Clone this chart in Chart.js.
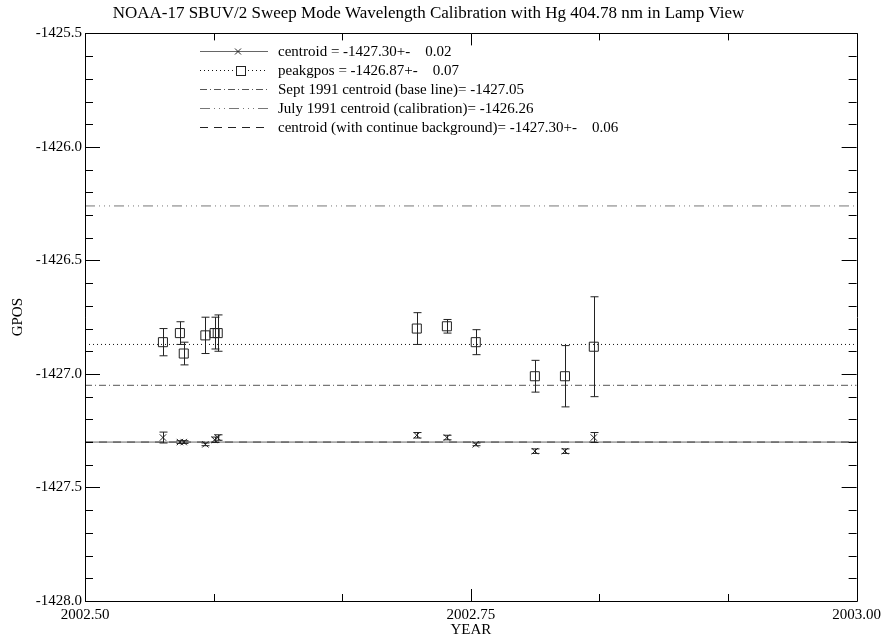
<!DOCTYPE html>
<html>
<head>
<meta charset="utf-8">
<title>NOAA-17 SBUV/2 wavelength calibration</title>
<script src="https://cdn.jsdelivr.net/npm/chart.js@4.4.0/dist/chart.umd.min.js"></script>
<style>
  html, body { margin: 0; padding: 0; background: #fff; }
</style>
</head>
<body>
<canvas id="chart" width="886" height="640"></canvas>
<script>
// observation times (fractional year)
var years = [2002.5505, 2002.5615, 2002.5640, 2002.5780, 2002.5840, 2002.5860,
             2002.7150, 2002.7345, 2002.7532, 2002.7915, 2002.8110, 2002.8297];

// centroid GPOS and its error
var centroid = [-1427.28, -1427.30, -1427.30, -1427.31, -1427.29, -1427.28,
                -1427.27, -1427.28, -1427.31, -1427.34, -1427.34, -1427.28];
var centroidErr = [0.024, 0.006, 0.006, 0.006, 0.012, 0.012,
                   0.012, 0.010, 0.006, 0.010, 0.010, 0.022];

// peak GPOS and its error
var peakgpos = [-1426.86, -1426.82, -1426.91, -1426.83, -1426.82, -1426.82,
                -1426.80, -1426.79, -1426.86, -1427.01, -1427.01, -1426.88];
var peakErr = [0.06, 0.05, 0.05, 0.08, 0.07, 0.08,
               0.07, 0.03, 0.055, 0.07, 0.135, 0.22];

// horizontal reference levels
var refLevels = [-1427.30, -1426.87, -1427.05, -1426.26, -1427.30];
var legendLabels = [
  'centroid = -1427.30+-    0.02',
  'peakgpos = -1426.87+-    0.07',
  'Sept 1991 centroid (base line)= -1427.05',
  'July 1991 centroid (calibration)= -1426.26',
  'centroid (with continue background)= -1427.30+-    0.06'
];

// axis ranges
var xMin = 2002.5, xMax = 2003.0;
var yMin = -1428.0, yMax = -1425.5;

var serif = '"Liberation Serif", "DejaVu Serif", serif';

var refStyles = [
  { color: '#666', dash: [] },
  { color: '#111', dash: [1, 3] },
  { color: '#555', dash: [7, 3, 1, 3] },
  { color: '#777', dash: [10, 4, 1, 4, 1, 4, 1, 4] },
  { color: '#222', dash: [8, 6] }
];

var refSets = refLevels.map(function (lv, i) {
  return {
    type: 'line',
    data: [{ x: xMin, y: lv }, { x: xMax, y: lv }],
    borderColor: refStyles[i].color,
    borderDash: refStyles[i].dash,
    borderWidth: 1,
    pointRadius: 0,
    fill: false
  };
});

// error bars for the two point series
var errorBars = {
  id: 'errorBars',
  afterDatasetsDraw: function (chart) {
    var xs = chart.scales.x, ys = chart.scales.y, ctx = chart.ctx;
    var series = [[centroid, centroidErr], [peakgpos, peakErr]];
    ctx.save();
    ctx.strokeStyle = '#222';
    ctx.lineWidth = 1;
    series.forEach(function (s) {
      for (var i = 0; i < years.length; i++) {
        var px = Math.round(xs.getPixelForValue(years[i])) + 0.5;
        var top = ys.getPixelForValue(s[0][i] + s[1][i]);
        var bot = ys.getPixelForValue(s[0][i] - s[1][i]);
        ctx.beginPath();
        ctx.moveTo(px, top); ctx.lineTo(px, bot);
        ctx.moveTo(px - 4, top); ctx.lineTo(px + 4, top);
        ctx.moveTo(px - 4, bot); ctx.lineTo(px + 4, bot);
        ctx.stroke();
      }
    });
    ctx.restore();
  }
};

// box frame with inward ticks on all four sides, plus the legend
var frame = {
  id: 'frame',
  afterDraw: function (chart) {
    var a = chart.chartArea, xs = chart.scales.x, ys = chart.scales.y, ctx = chart.ctx;
    ctx.save();
    ctx.strokeStyle = '#000';
    ctx.lineWidth = 1;
    ctx.beginPath();
    ctx.rect(Math.round(a.left) + 0.5, Math.round(a.top) + 0.5,
             Math.round(a.right - a.left), Math.round(a.bottom - a.top));
    ctx.stroke();

    ctx.beginPath();
    for (var k = 0; k <= 25; k++) {
      var py = Math.round(ys.getPixelForValue(yMin + k * 0.1)) + 0.5;
      var len = k % 5 === 0 ? 15 : 8;
      ctx.moveTo(a.left, py); ctx.lineTo(a.left + len, py);
      ctx.moveTo(a.right, py); ctx.lineTo(a.right - len, py);
    }
    for (var m = 0; m <= 6; m++) {
      var px = Math.round(xs.getPixelForValue(xMin + m / 12)) + 0.5;
      var tl = m % 3 === 0 ? 12 : 7;
      ctx.moveTo(px, a.bottom); ctx.lineTo(px, a.bottom - tl);
      ctx.moveTo(px, a.top); ctx.lineTo(px, a.top + tl);
    }
    ctx.stroke();

    // legend
    ctx.font = '15px ' + serif;
    ctx.textBaseline = 'middle';
    ctx.fillStyle = '#000';
    for (var i = 0; i < legendLabels.length; i++) {
      var ly = 51.5 + i * 19;
      ctx.strokeStyle = refStyles[i].color;
      ctx.setLineDash(refStyles[i].dash);
      ctx.beginPath();
      ctx.moveTo(200, ly); ctx.lineTo(268, ly);
      ctx.stroke();
      ctx.setLineDash([]);
      ctx.strokeStyle = '#222';
      if (i === 0) {
        ctx.beginPath();
        ctx.moveTo(235, ly - 3); ctx.lineTo(241, ly + 3);
        ctx.moveTo(235, ly + 3); ctx.lineTo(241, ly - 3);
        ctx.stroke();
      } else if (i === 1) {
        ctx.fillStyle = '#fff';
        ctx.fillRect(236, ly - 4, 9, 9);
        ctx.strokeRect(236.5, ly - 4, 9, 9);
        ctx.fillStyle = '#000';
      }
      ctx.fillText(legendLabels[i], 278, ly + 1);
    }
    ctx.restore();
  }
};

var ctx = document.getElementById('chart').getContext('2d');
var chart = new Chart(ctx, {
  type: 'scatter',
  data: {
    datasets: [
      {
        data: years.map(function (x, i) { return { x: x, y: centroid[i] }; }),
        pointStyle: 'crossRot',
        pointRadius: 4.5,
        borderColor: '#222',
        borderWidth: 1,
        showLine: false
      },
      {
        data: years.map(function (x, i) { return { x: x, y: peakgpos[i] }; }),
        pointStyle: 'rect',
        pointRadius: 6.4,
        borderColor: '#222',
        backgroundColor: 'rgba(0,0,0,0)',
        borderWidth: 1,
        showLine: false
      }
    ].concat(refSets)
  },
  options: {
    responsive: false,
    animation: false,
    layout: { padding: { left: 0, right: 29, top: 0, bottom: 0 } },
    plugins: {
      legend: { display: false },
      tooltip: { enabled: false },
      title: {
        display: true,
        text: 'NOAA-17 SBUV/2 Sweep Mode Wavelength Calibration with Hg 404.78 nm in Lamp View',
        color: '#000',
        font: { family: serif, size: 17, weight: 'normal' },
        padding: { top: 3, bottom: 10 }
      }
    },
    scales: {
      x: {
        type: 'linear',
        min: xMin,
        max: xMax,
        afterFit: function (s) { s.height = 39; },
        grid: { display: false, drawTicks: false },
        border: { display: true, color: '#000', width: 1 },
        ticks: {
          stepSize: 0.25,
          padding: 5,
          maxRotation: 0,
          autoSkip: false,
          color: '#000',
          font: { family: serif, size: 15 },
          callback: function (v) { return v.toFixed(2); }
        },
        title: {
          display: true,
          text: 'YEAR',
          color: '#000',
          font: { family: serif, size: 15 },
          padding: { top: 0, bottom: 1 }
        }
      },
      y: {
        type: 'linear',
        min: yMin,
        max: yMax,
        afterFit: function (s) { s.width = 85; },
        grid: { display: false, drawTicks: false },
        border: { display: true, color: '#000', width: 1 },
        ticks: {
          stepSize: 0.5,
          padding: 3,
          color: '#000',
          font: { family: serif, size: 15 },
          callback: function (v) { return v.toFixed(1); }
        },
        title: {
          display: true,
          text: 'GPOS',
          color: '#000',
          font: { family: serif, size: 15 },
          padding: { top: 9, bottom: 0 }
        }
      }
    }
  },
  plugins: [errorBars, frame]
});
</script>
</body>
</html>
